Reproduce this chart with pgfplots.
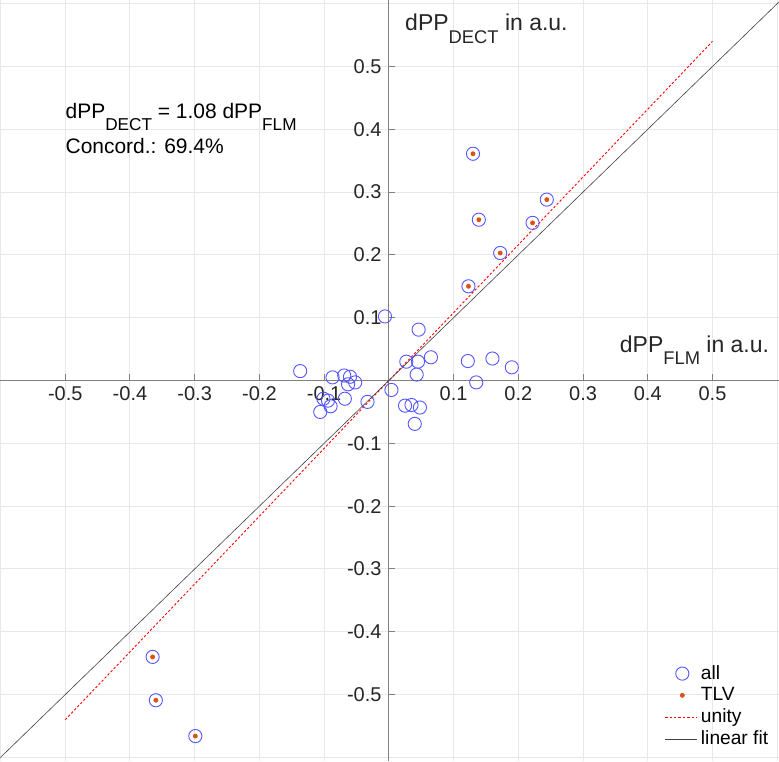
\documentclass[border=0pt]{standalone}
\usepackage{fontspec}
\setmainfont{Liberation Sans}
\usepackage{pgfplots}
\pgfplotsset{compat=1.18}
\pgfplotsset{shortline/.style={legend image code/.code={\draw[##1] (0cm,0cm) -- (0.55cm,0cm);}}}
\definecolor{cblue}{RGB}{85,85,255}
\definecolor{corange}{RGB}{217,83,25}
\definecolor{txt}{RGB}{38,38,38}
\newcommand{\sub}[1]{\raisebox{-5.6pt}{\fontsize{8.6}{9}\selectfont #1}}
\newcommand{\lsub}[1]{\raisebox{-6.2pt}{\fontsize{9.2}{10}\selectfont #1}}
\begin{document}
\fontsize{10}{12}\selectfont
\begin{tikzpicture}
\begin{axis}[
 width=389.5pt, height=380.5pt, scale only axis,
 xmin=-0.6, xmax=0.602, ymin=-0.605, ymax=0.605,
 enlargelimits=false,
 axis lines=middle,
 axis line style={-, black!50, line width=0.5pt},
 xtick={-0.5,-0.4,-0.3,-0.2,-0.1,0.1,0.2,0.3,0.4,0.5},
 xticklabels={-0.5,-0.4,-0.3,-0.2,-0.1,0.1,0.2,0.3,0.4,0.5},
 ytick={-0.5,-0.4,-0.3,-0.2,-0.1,0.1,0.2,0.3,0.4,0.5},
 yticklabels={-0.5,-0.4,-0.3,-0.2,-0.1,0.1,0.2,0.3,0.4,0.5},
 minor xtick={-0.6,0,0.6}, minor ytick={-0.6,0,0.6},
 grid=both,
 grid style={black!9, line width=0.5pt},
 minor grid style={black!9, line width=0.5pt},
 major tick length=3.3pt, minor tick length=0pt,
 tick align=inside,
 tick style={black!50, line width=0.5pt},
 /pgf/number format/assume math mode=true,
 xticklabel style={font=\fontsize{10}{12}\selectfont, text=txt, inner sep=0pt, yshift=-3pt},
 yticklabel style={font=\fontsize{10}{12}\selectfont, text=txt, inner sep=0pt, xshift=-3.5pt},
 legend style={draw=none, fill=none, at={(rel axis cs:1.0,0.006)}, anchor=south east,
   font=\fontsize{9.6}{11}\selectfont, row sep=-1.4pt},
 legend cell align=left,
]
\addplot[only marks, mark=o, mark size=3.3pt, mark options={draw=cblue, line width=0.45pt}]
 coordinates {
 (-0.006,0.102) (0.046,0.081) (-0.137,0.015) (-0.087,0.005) (-0.069,0.008)
 (-0.060,0.006) (-0.052,-0.003) (-0.063,-0.006) (0.027,0.030) (0.045,0.030)
 (0.065,0.037) (0.043,0.0095) (0.122,0.031) (0.135,-0.003) (0.004,-0.015)
 (-0.033,-0.034) (-0.068,-0.029) (-0.101,-0.029) (-0.094,-0.032) (-0.090,-0.041)
 (-0.106,-0.050) (0.025,-0.040) (0.035,-0.039) (0.048,-0.043) (0.040,-0.069)
 (0.160,0.035) (0.190,0.021)
 (0.130,0.361) (0.139,0.256) (0.123,0.150) (0.172,0.203) (0.222,0.251) (0.244,0.288)
 (-0.365,-0.440) (-0.360,-0.509) (-0.299,-0.566)
 };
\addlegendentry{all}
\addplot[only marks, mark=*, mark size=1pt, mark options={draw=corange, fill=corange}]
 coordinates {
 (0.130,0.361) (0.139,0.256) (0.123,0.150) (0.172,0.203) (0.222,0.251) (0.244,0.288)
 (-0.365,-0.440) (-0.360,-0.509) (-0.299,-0.566)
 };
\addlegendentry{TLV}
\addplot[red, line width=0.45pt, dash pattern=on 1.2pt off 1pt, shortline] coordinates {(-0.5,-0.54) (0.5,0.54)};
\addlegendentry{unity}
\addplot[black!75, line width=0.3pt, shortline] coordinates {(-0.61,-0.61) (0.61,0.61)};
\addlegendentry{linear fit}
\node[anchor=base west, inner sep=0pt, text=black, font=\fontsize{10.5}{12}\selectfont] at (axis cs:-0.5,0.4165) {dPP\sub{DECT} = 1.08 dPP\sub{FLM}};
\node[anchor=base west, inner sep=0pt, text=black, font=\fontsize{10.5}{12}\selectfont] at (axis cs:-0.5,0.361) {Concord.: 69.4\%};
\node[anchor=base west, inner sep=0pt, text=txt, font=\fontsize{11.5}{13}\selectfont] at (axis cs:0.0247,0.557) {dPP\lsub{DECT} in a.u.};
\node[anchor=base east, inner sep=0pt, text=txt, font=\fontsize{11.5}{13}\selectfont] at (axis cs:0.588,0.0453) {dPP\lsub{FLM} in a.u.};
\end{axis}
\end{tikzpicture}
\end{document}
